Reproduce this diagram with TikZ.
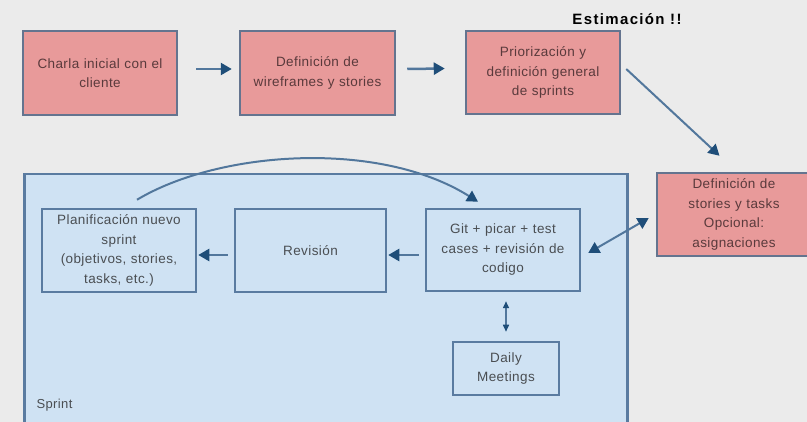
\documentclass[tikz,border=0pt]{standalone}
\usepackage{fontspec}
\setmainfont{Liberation Sans}
\usetikzlibrary{arrows.meta}
\definecolor{bgc}{HTML}{EBEBEB}
\definecolor{pinkf}{HTML}{E89A9A}
\definecolor{pinkd}{HTML}{64748F}
\definecolor{bluef}{HTML}{CFE2F3}
\definecolor{blued}{HTML}{5A7BA0}
\definecolor{ptext}{HTML}{5A3A3C}
\definecolor{btext}{HTML}{4A4E52}
\definecolor{arr}{HTML}{1F4E79}
\definecolor{shaft}{HTML}{52779C}
\tikzset{
  txt/.style={font=\fontsize{13.5}{19.5}\selectfont\addfontfeature{LetterSpace=3}},
  pinkbox/.style={draw=pinkd, fill=pinkf, line width=2.5pt, text=ptext, align=center, txt, inner sep=0pt},
  bluebox/.style={draw=blued, fill=bluef, line width=2.5pt, text=btext, align=center, txt, inner sep=0pt},
  conn/.style={draw=shaft, line width=2.5pt, -{Triangle[length=11pt,width=12pt,fill=arr,color=arr]}},
  dconn/.style={draw=shaft, line width=2.5pt, {Triangle[length=11pt,width=12pt,fill=arr,color=arr]}-{Triangle[length=11pt,width=12pt,fill=arr,color=arr]}},
  sconn/.style={draw=shaft, line width=1.5pt, {Triangle[length=7pt,width=6pt,fill=arr,color=arr]}-{Triangle[length=7pt,width=6pt,fill=arr,color=arr]}}
}
\begin{document}
\begin{tikzpicture}[x=1pt,y=-1pt]
\useasboundingbox (0,0) rectangle (807,422);
\clip (0,0) rectangle (807,422);
\fill[bgc] (0,0) rectangle (807,422);
% sprint container
\node[draw=blued, fill=bluef, line width=2.5pt, minimum width=603pt, minimum height=260pt, inner sep=0pt, anchor=north west] (sprint) at (23,173) {};
\node[text=btext, font=\fontsize{13}{15}\selectfont\addfontfeature{LetterSpace=3}, anchor=west] (sprintlbl) at (33,405) {Sprint};
% top row
\node[pinkbox, minimum width=154pt, minimum height=84pt, text width=150pt] (b1) at (100,73) {Charla inicial con el\\cliente};
\node[pinkbox, minimum width=155pt, minimum height=84pt, text width=151pt] (b2) at (317.5,73) {Definición de\\wireframes y stories};
\node[pinkbox, minimum width=154pt, minimum height=83pt, text width=150pt] (b3) at (543,72.5) {Priorización y\\definición general\\de sprints};
\node[pinkbox, minimum width=154pt, minimum height=83pt, text width=150pt] (b4) at (734,214.5) {Definición de\\stories y tasks\\Opcional:\\asignaciones};
\node[font=\bfseries\fontsize{15}{17}\selectfont\addfontfeature{LetterSpace=9}, text=black] (est) at (627,19) {Estimación !!};
% sprint boxes
\node[bluebox, minimum width=154pt, minimum height=83pt, text width=150pt] (plan) at (119,250.5) {Planificación nuevo\\sprint\\(objetivos, stories,\\tasks, etc.)};
\node[bluebox, minimum width=151pt, minimum height=83pt, text width=147pt] (rev) at (310.5,250.5) {Revisión};
\node[bluebox, minimum width=154pt, minimum height=82pt, text width=150pt] (git) at (503,250) {Git + picar + test\\cases + revisión de\\codigo};
\node[bluebox, minimum width=106pt, minimum height=53pt, text width=102pt] (daily) at (506,368.5) {Daily\\Meetings};
% connectors
\draw[conn] ([xshift=18pt,yshift=4pt]b1.east) -- ([xshift=-7pt,yshift=4pt]b2.west);
\draw[conn] ([xshift=11pt,yshift=4pt]b2.east) -- ([xshift=-20pt,yshift=4pt]b3.west);
\draw[conn, line width=2pt] ([xshift=5pt,yshift=3.5pt]b3.east) -- ([xshift=-14.5pt,yshift=16pt]b4.north);
\draw[conn, line width=2pt] ([xshift=18pt,yshift=8pt]plan.north) .. controls (220,150) and (380,140) .. ([xshift=-25pt,yshift=6pt]git.north);
\draw[conn] ([xshift=-6pt,yshift=-4.5pt]rev.west) -- ([xshift=1pt,yshift=-4.5pt]plan.east);
\draw[conn] ([xshift=-6pt,yshift=-5pt]git.west) -- ([xshift=1pt,yshift=-4.5pt]rev.east);
\draw[sconn] ([xshift=3pt,yshift=-9pt]git.south) -- ([yshift=9pt]daily.north);
\draw[dconn, line width=2pt] ([xshift=7pt,yshift=-3pt]git.east) -- ([xshift=-7pt,yshift=-3.5pt]b4.west);
\end{tikzpicture}
\end{document}
